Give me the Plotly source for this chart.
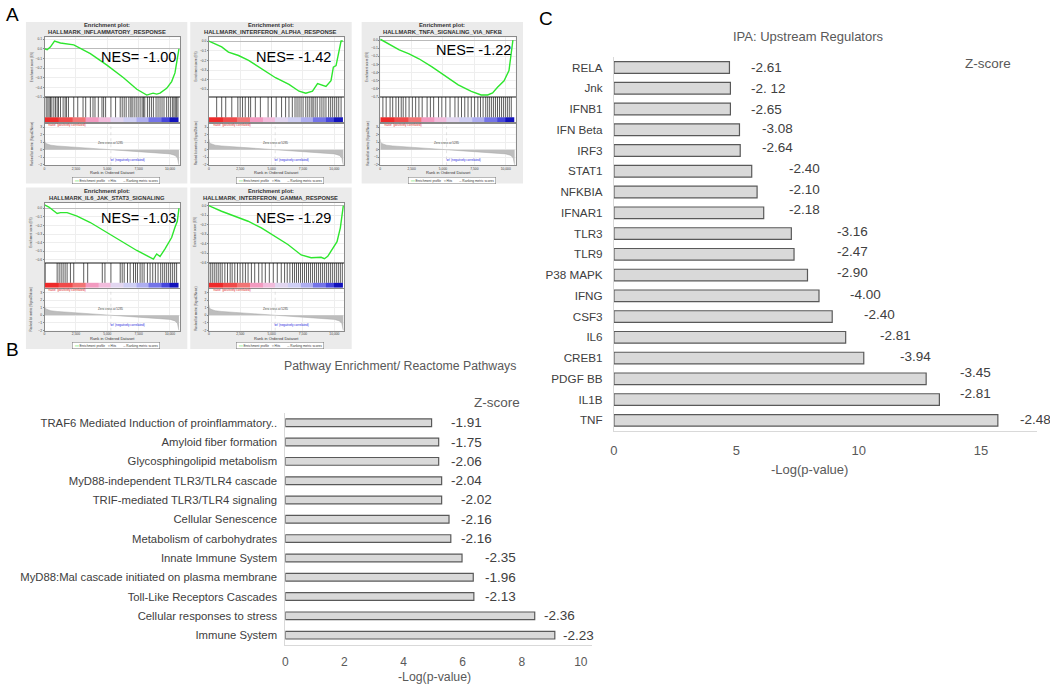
import plotly.graph_objects as go

W, H = 1050, 687
FONT = "Arial, 'Liberation Sans', sans-serif"

# ---------------- Panel A data (GSEA enrichment plots) ----------------
gsea_titles = ["HALLMARK_INFLAMMATORY_RESPONSE", "HALLMARK_INTERFERON_ALPHA_RESPONSE",
               "HALLMARK_TNFA_SIGNALING_VIA_NFKB", "HALLMARK_IL6_JAK_STAT3_SIGNALING",
               "HALLMARK_INTERFERON_GAMMA_RESPONSE"]
gsea_nes = ["-1.00", "-1.42", "-1.22", "-1.03", "-1.29"]

es1_rank = [0, 212, 476, 794, 1270, 2328, 3651, 4974, 6296, 7354, 8148, 8650, 8942, 9206, 9735, 10132, 10397, 10582, 10714]
es1_score = [0.0, -0.01, 0.02, 0.08, 0.06, 0.04, -0.05, -0.17, -0.30, -0.42, -0.48, -0.46, -0.47, -0.46, -0.41, -0.34, -0.25, -0.12, 0.0]
es2_rank = [0, 483, 1019, 1555, 2359, 3164, 4236, 5308, 6381, 7185, 7721, 8257, 8660, 9062, 9330, 9732, 9920, 10134, 10349, 10536, 10670]
es2_score = [0.0, -0.03, -0.06, -0.115, -0.15, -0.20, -0.29, -0.38, -0.45, -0.52, -0.54, -0.52, -0.44, -0.46, -0.47, -0.41, -0.27, -0.255, -0.13, 0.0, 0.0]
es3_rank = [0, 731, 1514, 2298, 3081, 4125, 5170, 6214, 7258, 8042, 8564, 8956, 9347, 9869, 10261, 10444, 10574]
es3_score = [0.01, -0.05, -0.12, -0.17, -0.23, -0.33, -0.44, -0.55, -0.63, -0.675, -0.675, -0.65, -0.58, -0.50, -0.375, -0.17, 0.0]
es4_rank = [0, 344, 1005, 1270, 1799, 2593, 3651, 4974, 6296, 7354, 8148, 8677, 8942, 9206, 9603, 9868, 10132, 10397, 10582, 10714]
es4_score = [0.04, 0.015, -0.06, -0.05, -0.05, -0.09, -0.165, -0.28, -0.40, -0.49, -0.55, -0.59, -0.53, -0.56, -0.47, -0.40, -0.34, -0.22, -0.15, 0.0]
es5_rank = [0, 212, 1005, 2063, 3122, 4180, 5238, 6296, 7354, 8148, 8942, 9206, 9471, 9868, 10212, 10476, 10608, 10714]
es5_score = [0.0, -0.015, -0.06, -0.11, -0.165, -0.235, -0.32, -0.41, -0.52, -0.55, -0.545, -0.56, -0.535, -0.45, -0.38, -0.235, -0.13, 0.0]

hits1 = [132, 265, 370, 476, 582, 741, 873, 1005, 1111, 1270, 1481, 1640, 1746, 1905, 2328, 2646, 3069, 3280, 3651,
         3862, 4021, 4286, 4577, 4709, 4868, 5291, 5661, 6032, 6190, 6349, 6508, 6720, 6878, 6984, 7143, 7302, 7460,
         7619, 7778, 7884, 7989, 8201, 8360, 8519, 8677, 8889, 9048, 9206, 9365, 9524, 9735, 9894, 10053, 10212,
         10317, 10423, 10529, 10635]
hits2 = [617, 1019, 1340, 1823, 2306, 2493, 2681, 2895, 3164, 3324, 3700, 4102, 4718, 4987, 5362, 5791, 6113, 6381,
         6649, 6863, 7024, 7185, 7346, 7507, 7721, 7882, 8043, 8204, 8311, 8472, 8633, 8847, 9008, 9169, 9330, 9544,
         9705, 9866, 10027, 10188, 10349, 10536]
hits3 = [209, 470, 783, 992, 1253, 1462, 1671, 1828, 2037, 2298, 2559, 2820, 3081, 3342, 3734, 3995, 4256, 4648, 4909,
         5222, 5561, 5953, 6214, 6475, 6736, 6997, 7258, 7520, 7781, 7990, 8198, 8407, 8564, 8721, 8877, 9034, 9191,
         9347, 9504, 9661, 9817, 9974, 10131, 10287, 10444]
hits4 = [53, 1005, 1164, 1323, 1481, 1640, 1799, 2063, 2328, 3122, 3439, 4603, 4815, 5291, 6032, 6190, 6349, 6614,
         6825, 7090, 7249, 7407, 7619, 7778, 7937, 8201, 8413, 8624, 8836, 9048, 9259, 9418, 9577, 9735, 9894, 10053,
         10212, 10370, 10529]
hits5 = [106, 265, 423, 582, 741, 899, 1058, 1270, 1481, 1693, 1852, 2063, 2275, 2487, 2698, 2910, 3122, 3386, 3651,
         3968, 4233, 4497, 4815, 5132, 5450, 5767, 6032, 6243, 6455, 6667, 6825, 6984, 7143, 7302, 7460, 7619, 7778,
         7937, 8095, 8254, 8413, 8571, 8730, 8889, 9048, 9206, 9365, 9524, 9683, 9841, 10000, 10159, 10317, 10476, 10635]

metric_rank = [0, 30, 150, 500, 1000, 2000, 3000, 4000, 5285, 6500, 7500, 8500, 9500, 10000, 10400, 10600, 10680, 10714]
metric_value = [1.4, 1.0, 0.8, 0.6, 0.5, 0.38, 0.27, 0.16, 0.0, -0.12, -0.22, -0.32, -0.45, -0.55, -0.75, -1.1, -1.8, -2.0]
zero_cross = 5285
rank_ticks = [0, 2500, 5000, 7500, 10000]
rank_tick_labels = ["0", "2,500", "5,000", "7,500", "10,000"]
colorbar_edges = [0, 1100, 2200, 3300, 4300, 5300, 6300, 7300, 8300, 9300, 10000, 10714]

# ---------------- Panel B data ----------------
pathways = ["TRAF6 Mediated Induction of proinflammatory..", "Amyloid fiber formation",
            "Glycosphingolipid metabolism", "MyD88-independent TLR3/TLR4 cascade",
            "TRIF-mediated TLR3/TLR4 signaling", "Cellular Senescence", "Metabolism of carbohydrates",
            "Innate Immune System", "MyD88:Mal cascade initiated on plasma membrane",
            "Toll-Like Receptors Cascades", "Cellular responses to stress", "Immune System"]
pathway_logp = [4.95, 5.19, 5.19, 5.29, 5.29, 5.54, 5.60, 5.98, 6.36, 6.38, 8.44, 9.12]
pathway_z = ["-1.91", "-1.75", "-2.06", "-2.04", "-2.02", "-2.16", "-2.16", "-2.35", "-1.96", "-2.13", "-2.36", "-2.23"]

# ---------------- Panel C data ----------------
regulators = ["RELA", "Jnk", "IFNB1", "IFN Beta", "IRF3", "STAT1", "NFKBIA", "IFNAR1", "TLR3", "TLR9",
              "P38 MAPK", "IFNG", "CSF3", "IL6", "CREB1", "PDGF BB", "IL1B", "TNF"]
regulator_logp = [4.72, 4.76, 4.76, 5.13, 5.16, 5.63, 5.85, 6.12, 7.25, 7.36, 7.91, 8.38, 8.92, 9.47, 10.21,
                  12.76, 13.30, 15.69]
regulator_z = ["-2.61", "-2. 12", "-2.65", "-3.08", "-2.64", "-2.40", "-2.10", "-2.18", "-3.16", "-2.47",
               "-2.90", "-4.00", "-2.40", "-2.81", "-3.94", "-3.45", "-2.81", "-2.48"]

# ---------------- styles ----------------
label_dx_B = [17, 10, 10, 7, 17, 10, 8, 21, 10, 9, 7, 6]
label_dx_C = [20, 19, 19, 21, 20, 35, 30, 23, 44, 41, 28, 29, 30, 32, 34, 32, 19, 20]
label_dy_C = [0, 0, 0, 1, 3, 3, 3, 3, 2, 3, 3, 1, 2, 2, 2, 6, 6, 1]
colorbar_colors = ["#ee2a2a", "#f04a4a", "#f27474", "#f39ac0", "#f2bcdc", "#e2d6f0", "#cfcff4",
                   "#aeaef0", "#7474e8", "#4646dc", "#1212bc"]
panel_origins = [(22, 22), (187, 22), (359, 22), (22, 188), (187, 188)]
es_ranges = [[-0.5, 0.12], [-0.58, 0.04], [-0.7, 0.035], [-0.63, 0.065], [-0.6, 0.03]]
nes_pos = [(135.5, 56.7), (290.8, 57.3), (471.5, 50.5), (135.5, 218.3), (290.8, 218.3)]

es_ranks = [es1_rank, es2_rank, es3_rank, es4_rank, es5_rank]
es_scores = [es1_score, es2_score, es3_score, es4_score, es5_score]
hits_all = [hits1, hits2, hits3, hits4, hits5]


def px(x):
    return x / W


def py(y):
    return 1 - y / H


fig = go.Figure()
layout = {}
annotations = []
shapes = []
counter = [0]


def new_axes(x0, x1, y0, y1, xa=None, ya=None):
    counter[0] += 1
    i = counter[0]
    s = "" if i == 1 else str(i)
    xa = dict(xa or {})
    ya = dict(ya or {})
    xa.update(domain=[px(x0), px(x1)], anchor="y" + s)
    ya.update(domain=[py(y1), py(y0)], anchor="x" + s)
    layout["xaxis" + s] = xa
    layout["yaxis" + s] = ya
    return "x" + s, "y" + s


def ann(x, y, text, size, color="#333333", bold=False, **kw):
    t = "<b>%s</b>" % text if bold else text
    d = dict(x=px(x), y=py(y), xref="paper", yref="paper", text=t, showarrow=False,
             xanchor="center", yanchor="middle",
             font=dict(size=size, color=color, family=FONT))
    d.update(kw)
    annotations.append(d)


frame = dict(showline=True, mirror=True, linecolor="#8a8a8a", linewidth=0.6, zeroline=False)
tickf = dict(size=3.3, color="#444444", family=FONT)

# ---------------- Panel A ----------------
for k in range(5):
    L, T = panel_origins[k]
    shapes.append(dict(type="rect", xref="paper", yref="paper", x0=px(L), x1=px(L + 162), y0=py(T + 162),
                       y1=py(T), fillcolor="#ebebeb", line=dict(width=0), layer="below"))
    shapes.append(dict(type="rect", xref="paper", yref="paper", x0=px(L + 18.7), x1=px(L + 154.7),
                       y0=py(T + 143.7), y1=py(T + 15.3), fillcolor="white", line=dict(width=0), layer="below"))
    xl, xr = L + 18.7, L + 154.7
    # ES plot
    xe, ye = new_axes(xl, xr, T + 15.3, T + 75.3,
                      dict(frame, range=[0, 10800], showticklabels=False, tickvals=rank_ticks,
                           showgrid=True, gridcolor="#eeeeee", gridwidth=0.5, ticks=""),
                      dict(frame, range=es_ranges[k], dtick=0.1, tickformat=".1f", tickfont=tickf,
                           ticks="outside", ticklen=1, tickcolor="#888", showgrid=True, gridcolor="#eeeeee",
                           gridwidth=0.5, zeroline=True, zerolinecolor="#bbbbbb", zerolinewidth=0.5))
    fig.add_trace(go.Scatter(x=es_ranks[k], y=es_scores[k], mode="lines", xaxis=xe, yaxis=ye,
                             line=dict(color="#2ee62e", width=1.4), showlegend=False, hoverinfo="skip"))
    # hits + colour bar
    xh, yh = new_axes(xl, xr, T + 75.3, T + 100.7,
                      dict(frame, range=[0, 10800], showticklabels=False, showgrid=False, ticks=""),
                      dict(frame, range=[0, 1], showticklabels=False, showgrid=False, ticks=""))
    hx, hy = [], []
    for r in hits_all[k]:
        hx += [r, r, None]
        hy += [0.2, 1, None]
    fig.add_trace(go.Scatter(x=hx, y=hy, mode="lines", xaxis=xh, yaxis=yh,
                             line=dict(color="rgba(0,0,0,0.8)", width=0.8), showlegend=False, hoverinfo="skip"))
    n = len(colorbar_colors)
    cs = [[i / (n - 1), c] for i, c in enumerate(colorbar_colors)]
    fig.add_trace(go.Heatmap(x=colorbar_edges, y=[0, 0.2], z=[list(range(n))], colorscale=cs, zmin=0,
                             zmax=n - 1, showscale=False, xaxis=xh, yaxis=yh, hoverinfo="skip"))
    # ranked metric
    xm, ym = new_axes(xl, xr, T + 102, T + 143.7,
                      dict(frame, range=[0, 10800], tickvals=rank_ticks, ticktext=rank_tick_labels,
                           tickfont=tickf, ticks="", ticklen=0, showgrid=True,
                           gridcolor="#eeeeee", gridwidth=0.5),
                      dict(frame, range=[-2.05, 3.45], tickvals=[-2, -1, 0, 1, 2, 3], tickfont=tickf,
                           ticks="outside", ticklen=1, tickcolor="#888", showgrid=True, gridcolor="#eeeeee",
                           gridwidth=0.5))
    fig.add_trace(go.Scatter(x=metric_rank, y=metric_value, mode="lines", fill="tozeroy", xaxis=xm, yaxis=ym,
                             fillcolor="#bdbdbd", line=dict(color="#a8a8a8", width=0.5), showlegend=False,
                             hoverinfo="skip"))
    fig.add_trace(go.Scatter(x=[zero_cross, zero_cross], y=[-2.05, 3.45], mode="lines", xaxis=xm, yaxis=ym,
                             line=dict(color="#c8c8c8", width=0.5, dash="dot"), showlegend=False,
                             hoverinfo="skip"))
    annotations.append(dict(x=zero_cross, y=0.85, xref=xm, yref=ym, text="Zero cross at " + str(zero_cross),
                            showarrow=False, font=dict(size=3, color="#444", family=FONT)))
    annotations.append(dict(x=150, y=3.3, xref=xm, yref=ym, text="'naive' (positively correlated)",
                            xanchor="left", showarrow=False, font=dict(size=3, color="#e02020", family=FONT)))
    annotations.append(dict(x=6600, y=-1.35, xref=xm, yref=ym, text="'wt' (negatively correlated)",
                            showarrow=False, font=dict(size=3, color="#2020e0", family=FONT)))
    # titles and labels
    ann(L + 81, T + 3.2, "Enrichment plot:", 5.8, bold=True)
    ann(L + 81, T + 10.3, gsea_titles[k], 5.8, bold=True)
    ann(nes_pos[k][0], nes_pos[k][1], "NES= " + gsea_nes[k], 14.5, color="#000000")
    ann(L + 86.7, T + 151.3, "Rank in Ordered Dataset", 4, color="#333")
    ann(L + 5.5, T + 45, "Enrichment score (ES)", 3, color="#444", textangle=-90)
    ann(L + 5.5, T + 122, "Ranked list metric (Signal2Noise)", 3, color="#444", textangle=-90)
    ann(L + 90.5, T + 158.6, "<span style='color:#22dd22'>━━</span> Enrichment profile   "
        "━ Hits        ─ Ranking metric scores", 3.2, color="#333", bordercolor="#777", borderwidth=0.5,
        borderpad=1, bgcolor="white")

# ---------------- Panel B ----------------
bar_line = dict(color="#595959", width=1.2)
xb, yb = new_axes(282.4, 590, 414.3, 646.7,
                  dict(range=[0, 10.37], tickvals=[0, 2, 4, 6, 8, 10], showgrid=False, zeroline=False,
                       showline=True, linecolor="#d9d9d9", linewidth=1, ticks="outside", ticklen=6,
                       tickcolor="rgba(0,0,0,0)", tickfont=dict(size=12, color="#595959", family=FONT)),
                  dict(autorange="reversed", showgrid=False, zeroline=False, showline=True, linecolor="#d9d9d9",
                       linewidth=1, ticks="outside", ticklen=5, tickcolor="rgba(0,0,0,0)",
                       tickfont=dict(size=11.3, color="#404040", family=FONT)))
fig.add_trace(go.Bar(x=pathway_logp, y=pathways, orientation="h", xaxis=xb, yaxis=yb, width=0.4,
                     marker=dict(color="#d9d9d9", line=bar_line), showlegend=False, hoverinfo="skip"))
for i, (v, c, z) in enumerate(zip(pathway_logp, pathways, pathway_z)):
    annotations.append(dict(x=v, y=c, xref=xb, yref=yb, text=z, xanchor="left", yanchor="middle",
                            xshift=label_dx_B[i], showarrow=False,
                            font=dict(size=13.5, color="#404040", family=FONT)))
ann(398, 367, "Pathway Enrichment/ Reactome Pathways", 12.3, color="#595959")
ann(495, 403.5, "Z-score", 13.5, color="#595959")
ann(432.5, 679, "-Log(p-value)", 12.3, color="#595959")

# ---------------- Panel C ----------------
xc, yc = new_axes(612.3, 1036.7, 57.3, 432.1,
                  dict(range=[0, 17.28], tickvals=[0, 5, 10, 15], showgrid=False, zeroline=False,
                       showline=True, linecolor="#d9d9d9", linewidth=1, ticks="outside", ticklen=8,
                       tickcolor="rgba(0,0,0,0)", tickfont=dict(size=13, color="#595959", family=FONT)),
                  dict(autorange="reversed", showgrid=False, zeroline=False, showline=True, linecolor="#d9d9d9",
                       linewidth=1, ticks="outside", ticklen=8, tickcolor="rgba(0,0,0,0)",
                       tickfont=dict(size=11.7, color="#404040", family=FONT)))
fig.add_trace(go.Bar(x=regulator_logp, y=regulators, orientation="h", xaxis=xc, yaxis=yc, width=0.56,
                     marker=dict(color="#d9d9d9", line=bar_line), showlegend=False, hoverinfo="skip"))
for i, (v, c, z) in enumerate(zip(regulator_logp, regulators, regulator_z)):
    annotations.append(dict(x=v, y=c, xref=xc, yref=yc, text=z, xanchor="left", yanchor="middle",
                            xshift=label_dx_C[i], yshift=label_dy_C[i], showarrow=False,
                            font=dict(size=13.5, color="#404040", family=FONT)))
ann(808, 37, "IPA: Upstream Regulators", 13, color="#595959")
ann(988, 63.5, "Z-score", 13.5, color="#595959")
ann(809, 471, "-Log(p-value)", 13, color="#595959")

# panel letters
ann(9, 15, "A", 19, color="#000000")
ann(9, 351, "B", 19, color="#000000")
ann(544, 18.5, "C", 19, color="#000000")

fig.update_layout(width=W, height=H, margin=dict(l=0, r=0, t=0, b=0), paper_bgcolor="white",
                  plot_bgcolor="white", font=dict(family=FONT), annotations=annotations, shapes=shapes,
                  **layout)
fig.write_html("out.html", config={"displayModeBar": False},
               post_script="document.body.style.margin='0px';document.body.style.overflow='hidden';")
